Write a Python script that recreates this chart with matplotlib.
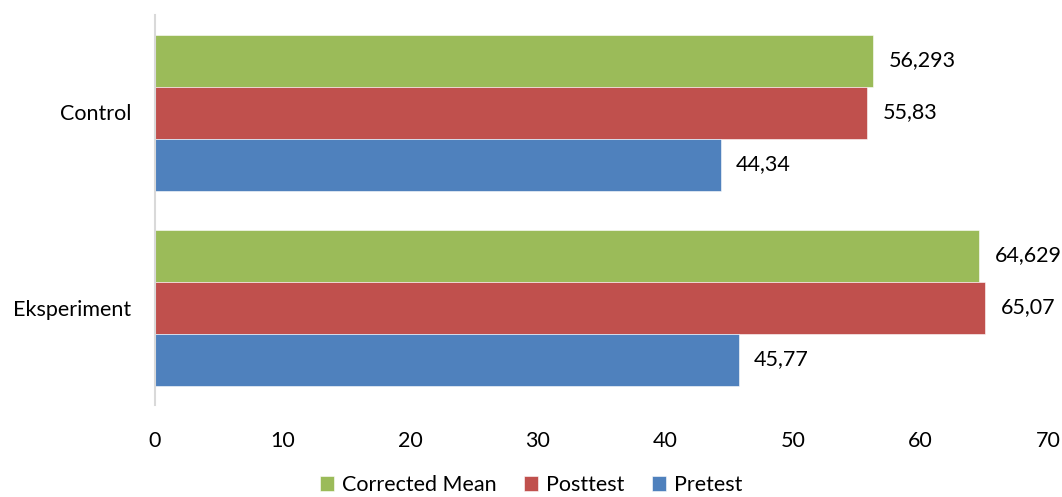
import matplotlib
matplotlib.use("Agg")
import matplotlib.pyplot as plt
import numpy as np

categories = ["Control", "Eksperiment"]
series_names = ["Corrected Mean", "Posttest", "Pretest"]
corrected_mean = [56.293, 64.629]
posttest = [55.83, 65.07]
pretest = [44.34, 45.77]
labels_cm = ["56,293", "64,629"]
labels_post = ["55,83", "65,07"]
labels_pre = ["44,34", "45,77"]
colors = ["#9BBB59", "#C0504D", "#4F81BD"]

plt.rcParams['font.family'] = ['Lato', 'DejaVu Sans']
FS = 15.5

fig = plt.figure(figsize=(10.62, 4.97), dpi=100)
ax = fig.add_axes([155/1062, 1-405/497, (1048-155)/1062, 390/497])

h = 0.8/3
y = np.arange(len(categories))
data = [corrected_mean, posttest, pretest]
lbls = [labels_cm, labels_post, labels_pre]
for i, (vals, lab, c, name) in enumerate(zip(data, lbls, colors, series_names)):
    pos = y + (i - 1) * h
    bars = ax.barh(pos, vals, height=h, color=c, edgecolor='white', linewidth=0.4, label=name)
    for b, v, t in zip(bars, vals, lab):
        ax.annotate(t, (v, b.get_y() + b.get_height()/2), xytext=(11, 0),
                    textcoords='offset points', va='center', ha='left', fontsize=FS, color='#000000')

ax.set_xlim(0, 70)
ax.set_ylim(1.5, -0.5)
ax.set_xticks(range(0, 71, 10))
ax.set_yticks(y)
ax.set_yticklabels(categories)
for s in ['top', 'right', 'bottom']:
    ax.spines[s].set_visible(False)
ax.spines['left'].set_color('#D9D9D9')
ax.spines['left'].set_linewidth(1.5)
ax.tick_params(axis='x', length=0, pad=19, labelsize=FS)
ax.tick_params(axis='y', length=0, pad=17, labelsize=FS)

leg = fig.legend(loc='lower center', bbox_to_anchor=(0.5, -0.035), ncol=3, frameon=False,
                 fontsize=FS, handlelength=0.65, handleheight=0.65, handletextpad=0.35, columnspacing=1.3)

fig.savefig("out.png", dpi=100)
